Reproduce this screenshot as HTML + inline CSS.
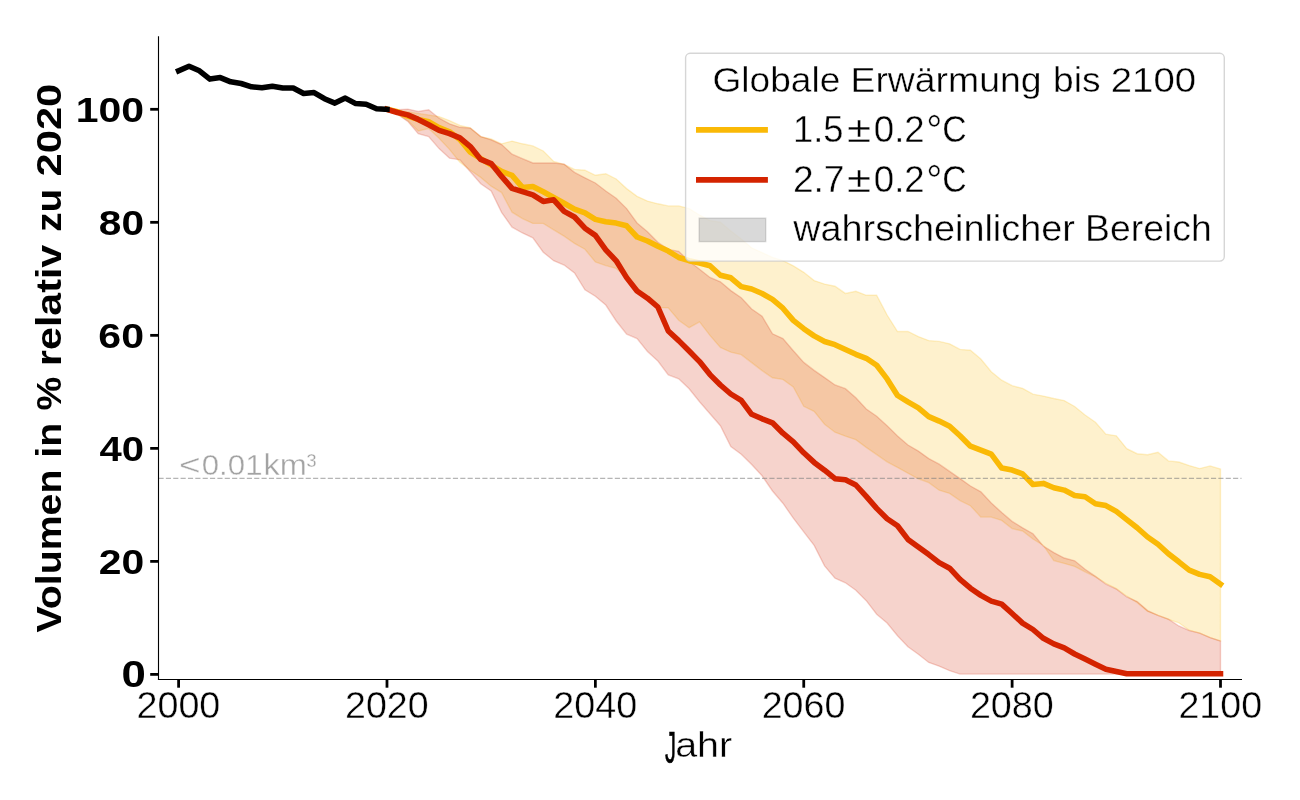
<!DOCTYPE html>
<html lang="de"><head><meta charset="utf-8"><title>Chart</title>
<style>html,body{margin:0;padding:0;background:#fff;}svg{display:block;will-change:transform;}text{font-family:"Liberation Sans",sans-serif;}</style>
</head><body>
<svg width="1300" height="800" viewBox="0 0 1300 800">
<rect x="0" y="0" width="1300" height="800" fill="#ffffff"/>
<path d="M386.98,109.50 L397.40,110.20 L407.82,111.80 L418.24,113.40 L428.66,115.00 L439.08,116.60 L449.49,120.60 L459.91,125.40 L470.33,127.80 L480.75,136.60 L491.17,139.00 L501.59,143.80 L512.01,141.10 L522.43,143.80 L532.85,145.90 L543.26,151.00 L553.68,161.40 L564.10,164.40 L574.52,169.40 L584.94,170.20 L595.36,175.30 L605.78,173.70 L616.20,179.00 L626.62,188.60 L637.04,196.30 L647.46,201.10 L657.87,203.80 L668.29,205.90 L678.71,205.90 L689.13,208.60 L699.55,215.00 L709.97,220.60 L720.39,222.20 L730.81,231.00 L741.23,239.00 L751.65,247.80 L762.06,252.60 L772.48,257.40 L782.90,260.60 L793.32,265.80 L803.74,272.30 L814.16,280.60 L824.58,284.10 L835.00,286.20 L845.42,293.40 L855.84,291.30 L866.25,295.30 L876.67,295.30 L887.09,315.00 L897.51,331.50 L907.93,331.50 L918.35,336.60 L928.77,340.60 L939.19,341.40 L949.61,343.80 L960.03,349.40 L970.44,350.20 L980.86,359.00 L991.28,371.80 L1001.70,380.20 L1012.12,385.70 L1022.54,388.30 L1032.96,394.20 L1043.38,396.10 L1053.80,398.50 L1064.21,400.60 L1074.63,406.50 L1085.05,415.00 L1095.47,422.20 L1105.89,434.20 L1116.31,435.80 L1126.73,448.60 L1137.15,453.70 L1147.57,454.70 L1157.99,452.30 L1168.40,460.90 L1178.82,462.00 L1189.24,465.60 L1199.66,468.60 L1210.08,465.90 L1220.50,469.00 L1220.50,641.10 L1210.08,637.60 L1199.66,633.20 L1189.24,630.20 L1178.82,622.80 L1168.40,619.40 L1157.99,615.40 L1147.57,611.40 L1137.15,602.60 L1126.73,596.20 L1116.31,588.70 L1105.89,583.40 L1095.47,576.80 L1085.05,571.80 L1074.63,566.40 L1064.21,563.40 L1053.80,560.60 L1043.38,545.40 L1032.96,539.00 L1022.54,531.00 L1012.12,528.60 L1001.70,520.40 L991.28,517.10 L980.86,517.10 L970.44,505.70 L960.03,500.60 L949.61,493.40 L939.19,490.20 L928.77,482.60 L918.35,478.80 L907.93,473.20 L897.51,467.40 L887.09,461.80 L876.67,454.60 L866.25,447.40 L855.84,439.70 L845.42,436.20 L835.00,432.20 L824.58,424.20 L814.16,411.40 L803.74,406.30 L793.32,387.00 L782.90,379.40 L772.48,377.80 L762.06,370.60 L751.65,362.60 L741.23,354.60 L730.81,352.20 L720.39,347.40 L709.97,335.40 L699.55,321.80 L689.13,327.70 L678.71,320.20 L668.29,307.90 L657.87,307.40 L647.46,298.60 L637.04,289.00 L626.62,277.80 L616.20,268.40 L605.78,265.60 L595.36,262.00 L584.94,249.20 L574.52,243.40 L564.10,236.20 L553.68,229.80 L543.26,223.40 L532.85,223.40 L522.43,218.60 L512.01,212.20 L501.59,192.60 L491.17,186.20 L480.75,177.40 L470.33,170.20 L459.91,162.20 L449.49,149.40 L439.08,138.20 L428.66,128.60 L418.24,131.00 L407.82,120.60 L397.40,114.20 L386.98,109.50 Z" fill="#FAB906" fill-opacity="0.2" stroke="#FAB906" stroke-opacity="0.2" stroke-width="1.39" stroke-linejoin="miter"/>
<path d="M386.98,109.50 L397.40,109.70 L407.82,109.10 L418.24,111.50 L428.66,109.70 L439.08,118.20 L449.49,123.80 L459.91,127.30 L470.33,128.10 L480.75,136.60 L491.17,139.80 L501.59,144.60 L512.01,154.20 L522.43,158.70 L532.85,163.00 L543.26,163.00 L553.68,163.00 L564.10,164.10 L574.52,172.40 L584.94,177.80 L595.36,183.00 L605.78,191.00 L616.20,198.20 L626.62,208.60 L637.04,223.00 L647.46,231.80 L657.87,242.20 L668.29,249.40 L678.71,251.30 L689.13,261.20 L699.55,269.20 L709.97,277.50 L720.39,281.80 L730.81,290.60 L741.23,297.80 L751.65,309.00 L762.06,316.20 L772.48,333.80 L782.90,338.60 L793.32,350.70 L803.74,362.40 L814.16,370.40 L824.58,377.60 L835.00,385.00 L845.42,388.70 L855.84,397.80 L866.25,409.00 L876.67,416.20 L887.09,425.80 L897.51,436.10 L907.93,445.00 L918.35,451.10 L928.77,458.60 L939.19,464.20 L949.61,471.40 L960.03,478.60 L970.44,486.00 L980.86,491.80 L991.28,503.00 L1001.70,512.50 L1012.12,521.40 L1022.54,527.80 L1032.96,533.70 L1043.38,546.20 L1053.80,552.60 L1064.21,558.00 L1074.63,560.80 L1085.05,569.20 L1095.47,576.40 L1105.89,584.20 L1116.31,589.00 L1126.73,597.00 L1137.15,601.50 L1147.57,610.60 L1157.99,615.40 L1168.40,619.20 L1178.82,626.00 L1189.24,630.60 L1199.66,633.20 L1210.08,637.60 L1220.50,641.10 L1220.50,674.10 L1210.08,674.10 L1199.66,674.10 L1189.24,674.10 L1178.82,674.10 L1168.40,674.10 L1157.99,674.10 L1147.57,674.10 L1137.15,674.10 L1126.73,674.10 L1116.31,674.10 L1105.89,674.10 L1095.47,674.10 L1085.05,674.10 L1074.63,674.10 L1064.21,674.10 L1053.80,674.10 L1043.38,674.10 L1032.96,674.10 L1022.54,674.10 L1012.12,674.10 L1001.70,674.10 L991.28,674.10 L980.86,674.10 L970.44,674.10 L960.03,674.10 L949.61,670.70 L939.19,666.20 L928.77,662.50 L918.35,654.20 L907.93,646.70 L897.51,635.80 L887.09,623.00 L876.67,614.20 L866.25,600.70 L855.84,590.20 L845.42,582.80 L835.00,578.20 L824.58,565.90 L814.16,545.40 L803.74,531.80 L793.32,518.20 L782.90,503.20 L772.48,491.00 L762.06,475.80 L751.65,464.60 L741.23,454.20 L730.81,446.50 L720.39,425.70 L709.97,413.70 L699.55,401.70 L689.13,388.70 L678.71,378.80 L668.29,374.80 L657.87,361.00 L647.46,351.40 L637.04,338.60 L626.62,334.10 L616.20,321.00 L605.78,305.00 L595.36,296.20 L584.94,289.80 L574.52,273.00 L564.10,265.00 L553.68,260.70 L543.26,252.20 L532.85,237.80 L522.43,233.00 L512.01,227.10 L501.59,212.40 L491.17,191.00 L480.75,183.80 L470.33,171.80 L459.91,159.80 L449.49,158.20 L439.08,148.60 L428.66,136.60 L418.24,133.70 L407.82,121.40 L397.40,114.20 L386.98,109.50 Z" fill="#D42300" fill-opacity="0.2" stroke="#D42300" stroke-opacity="0.2" stroke-width="1.39" stroke-linejoin="miter"/>
<path d="M386.98,109.30 L397.40,111.80 L407.82,116.20 L418.24,119.40 L428.66,121.80 L439.08,127.60 L449.49,131.80 L459.91,139.40 L470.33,152.20 L480.75,158.60 L491.17,165.00 L501.59,171.40 L512.01,175.40 L522.43,187.40 L532.85,186.60 L543.26,191.80 L553.68,197.50 L564.10,203.20 L574.52,209.20 L584.94,212.80 L595.36,219.40 L605.78,221.80 L616.20,223.10 L626.62,225.80 L637.04,237.00 L647.46,241.00 L657.87,246.30 L668.29,251.10 L678.71,257.50 L689.13,260.70 L699.55,263.00 L709.97,265.70 L720.39,275.20 L730.81,277.80 L741.23,286.60 L751.65,289.00 L762.06,293.50 L772.48,299.40 L782.90,308.20 L793.32,320.40 L803.74,328.70 L814.16,335.90 L824.58,341.50 L835.00,344.70 L845.42,349.50 L855.84,354.30 L866.25,358.30 L876.67,365.30 L887.09,378.90 L897.51,395.50 L907.93,401.90 L918.35,407.80 L928.77,416.60 L939.19,421.10 L949.61,426.20 L960.03,435.80 L970.44,446.20 L980.86,450.20 L991.28,454.20 L1001.70,468.10 L1012.12,470.10 L1022.54,473.90 L1032.96,484.50 L1043.38,483.40 L1053.80,487.70 L1064.21,490.10 L1074.63,495.40 L1085.05,496.80 L1095.47,503.70 L1105.89,505.60 L1116.31,511.40 L1126.73,519.60 L1137.15,527.70 L1147.57,537.00 L1157.99,544.20 L1168.40,553.80 L1178.82,561.80 L1189.24,570.20 L1199.66,574.40 L1210.08,576.80 L1220.50,584.20" fill="none" stroke="#FAB906" stroke-width="5.56" stroke-linejoin="round" stroke-linecap="square"/>
<line x1="158.5" y1="478.4" x2="1241.5" y2="478.4" stroke="#808080" stroke-opacity="0.58" stroke-width="1.1" stroke-dasharray="5.14 2.22"/>
<path d="M386.98,109.30 L397.40,112.50 L407.82,114.90 L418.24,119.40 L428.66,124.70 L439.08,130.40 L449.49,133.60 L459.91,137.80 L470.33,146.60 L480.75,159.40 L491.17,163.60 L501.59,176.40 L512.01,188.40 L522.43,191.60 L532.85,194.80 L543.26,201.40 L553.68,199.80 L564.10,211.40 L574.52,217.00 L584.94,228.20 L595.36,235.40 L605.78,249.80 L616.20,260.80 L626.62,277.60 L637.04,291.00 L647.46,298.20 L657.87,307.00 L668.29,331.00 L678.71,340.60 L689.13,351.00 L699.55,361.60 L709.97,374.60 L720.39,385.00 L730.81,394.00 L741.23,400.40 L751.65,414.30 L762.06,418.80 L772.48,422.80 L782.90,433.20 L793.32,441.80 L803.74,452.80 L814.16,462.40 L824.58,470.20 L835.00,478.70 L845.42,479.80 L855.84,485.00 L866.25,496.40 L876.67,508.40 L887.09,518.80 L897.51,525.80 L907.93,539.40 L918.35,547.10 L928.77,554.60 L939.19,562.60 L949.61,568.20 L960.03,579.40 L970.44,588.20 L980.86,595.40 L991.28,601.10 L1001.70,604.10 L1012.12,613.50 L1022.54,623.10 L1032.96,629.50 L1043.38,638.30 L1053.80,643.90 L1064.21,647.90 L1074.63,654.00 L1085.05,659.10 L1095.47,664.20 L1105.89,669.20 L1116.31,671.50 L1126.73,673.70 L1137.15,673.70 L1147.57,673.70 L1157.99,673.70 L1168.40,673.70 L1178.82,673.70 L1189.24,673.70 L1199.66,673.70 L1210.08,673.70 L1220.50,673.70" fill="none" stroke="#D42300" stroke-width="5.56" stroke-linejoin="round" stroke-linecap="square"/>
<path d="M178.60,70.80 L189.02,66.30 L199.44,70.80 L209.86,79.10 L220.28,77.60 L230.69,81.80 L241.11,83.50 L251.53,86.80 L261.95,87.80 L272.37,86.30 L282.79,88.00 L293.21,88.00 L303.63,93.50 L314.05,92.60 L324.47,98.70 L334.88,103.10 L345.30,98.10 L355.72,103.60 L366.14,104.30 L376.56,108.80 L386.98,109.30" fill="none" stroke="#000" stroke-width="5.56" stroke-linejoin="round" stroke-linecap="square"/>
<line x1="158.5" y1="36.25" x2="158.5" y2="680.05" stroke="#000" stroke-width="1.11"/>
<line x1="157.95" y1="679.5" x2="1242" y2="679.5" stroke="#000" stroke-width="1.11"/>
<line x1="178.60" y1="679.5" x2="178.60" y2="687.7" stroke="#000" stroke-width="2.78"/>
<line x1="150.2" y1="674.40" x2="158.5" y2="674.40" stroke="#000" stroke-width="2.78"/>
<line x1="386.98" y1="679.5" x2="386.98" y2="687.7" stroke="#000" stroke-width="2.78"/>
<line x1="150.2" y1="561.38" x2="158.5" y2="561.38" stroke="#000" stroke-width="2.78"/>
<line x1="595.36" y1="679.5" x2="595.36" y2="687.7" stroke="#000" stroke-width="2.78"/>
<line x1="150.2" y1="448.36" x2="158.5" y2="448.36" stroke="#000" stroke-width="2.78"/>
<line x1="803.74" y1="679.5" x2="803.74" y2="687.7" stroke="#000" stroke-width="2.78"/>
<line x1="150.2" y1="335.34" x2="158.5" y2="335.34" stroke="#000" stroke-width="2.78"/>
<line x1="1012.12" y1="679.5" x2="1012.12" y2="687.7" stroke="#000" stroke-width="2.78"/>
<line x1="150.2" y1="222.32" x2="158.5" y2="222.32" stroke="#000" stroke-width="2.78"/>
<line x1="1220.50" y1="679.5" x2="1220.50" y2="687.7" stroke="#000" stroke-width="2.78"/>
<line x1="150.2" y1="109.30" x2="158.5" y2="109.30" stroke="#000" stroke-width="2.78"/>
<rect x="685.6" y="53.3" width="538.7" height="207.8" rx="4.5" ry="4.5" fill="#fff" fill-opacity="0.8" stroke="#cccccc" stroke-opacity="0.8" stroke-width="1.39"/>
<line x1="696" y1="129.9" x2="767.9" y2="129.9" stroke="#FAB906" stroke-width="5.56"/>
<line x1="696" y1="179.9" x2="767.9" y2="179.9" stroke="#D42300" stroke-width="5.56"/>
<rect x="699.2" y="218.2" width="66.5" height="23.4" fill="#808080" fill-opacity="0.3" stroke="#808080" stroke-opacity="0.3" stroke-width="1.39"/>
<text transform="translate(178.38,717.86) scale(1.0458,1.0000)" font-size="36.071" font-weight="normal" text-anchor="middle" fill="#000" stroke="#fff" stroke-width="0.4">2000</text>
<text transform="translate(386.81,717.86) scale(1.0428,1.0000)" font-size="36.071" font-weight="normal" text-anchor="middle" fill="#000" stroke="#fff" stroke-width="0.4">2020</text>
<text transform="translate(595.16,717.86) scale(1.0464,1.0000)" font-size="36.071" font-weight="normal" text-anchor="middle" fill="#000" stroke="#fff" stroke-width="0.4">2040</text>
<text transform="translate(803.53,717.86) scale(1.0435,1.0000)" font-size="36.071" font-weight="normal" text-anchor="middle" fill="#000" stroke="#fff" stroke-width="0.4">2060</text>
<text transform="translate(1011.85,717.86) scale(1.0463,1.0000)" font-size="36.071" font-weight="normal" text-anchor="middle" fill="#000" stroke="#fff" stroke-width="0.4">2080</text>
<text transform="translate(1220.26,717.86) scale(1.0428,1.0000)" font-size="36.071" font-weight="normal" text-anchor="middle" fill="#000" stroke="#fff" stroke-width="0.4">2100</text>
<text transform="translate(145.69,686.98) scale(1.2107,1.0000)" font-size="36.113" font-weight="bold" text-anchor="end" fill="#000">0</text>
<text transform="translate(144.15,573.92) scale(1.1397,1.0000)" font-size="35.831" font-weight="bold" text-anchor="end" fill="#000">20</text>
<text transform="translate(144.02,460.97) scale(1.1177,1.0000)" font-size="35.831" font-weight="bold" text-anchor="end" fill="#000">40</text>
<text transform="translate(144.00,347.98) scale(1.1467,1.0000)" font-size="35.831" font-weight="bold" text-anchor="end" fill="#000">60</text>
<text transform="translate(144.02,234.81) scale(1.1332,1.0000)" font-size="35.831" font-weight="bold" text-anchor="end" fill="#000">80</text>
<text transform="translate(144.05,121.76) scale(1.1584,1.0000)" font-size="35.35" font-weight="bold" text-anchor="end" fill="#000">100</text>
<text transform="translate(670.38,763.10) scale(0.6225,1.2500)" font-size="35.357" font-weight="normal" text-anchor="middle" fill="#000" stroke="#000" stroke-width="0.5">J</text>
<text transform="translate(703.67,756.95) scale(1.1172,1.0000)" font-size="35.357" font-weight="normal" text-anchor="middle" fill="#000" stroke="#fff" stroke-width="0.4">ahr</text>
<text transform="translate(60.83,551.00) rotate(-90) scale(1.1229,1.0000)" font-size="34.996" font-weight="bold" text-anchor="middle" fill="#000">Volumen</text>
<text transform="translate(60.83,440.12) rotate(-90) scale(1.1267,1.0000)" font-size="34.996" font-weight="bold" text-anchor="middle" fill="#000">in</text>
<text transform="translate(60.83,393.50) rotate(-90) scale(1.0865,1.0000)" font-size="34.996" font-weight="bold" text-anchor="middle" fill="#000">%</text>
<text transform="translate(60.83,305.38) rotate(-90) scale(1.1743,1.0000)" font-size="34.996" font-weight="bold" text-anchor="middle" fill="#000">relativ</text>
<text transform="translate(60.83,210.25) rotate(-90) scale(1.1045,1.0000)" font-size="34.996" font-weight="bold" text-anchor="middle" fill="#000">zu</text>
<text transform="translate(60.83,130.12) rotate(-90) scale(1.1910,1.0000)" font-size="34.996" font-weight="bold" text-anchor="middle" fill="#000">2020</text>
<text transform="translate(189.75,474.97) scale(1.2279,1.0000)" font-size="30.217" font-weight="normal" text-anchor="middle" fill="#a3a3a3" stroke="#fff" stroke-width="0.4">&lt;</text>
<text transform="translate(232.14,474.97) scale(1.0344,1.0000)" font-size="30.217" font-weight="normal" text-anchor="middle" fill="#a3a3a3" stroke="#fff" stroke-width="0.4">0.01</text>
<text transform="translate(285.14,474.97) scale(1.0798,1.0000)" font-size="30.217" font-weight="normal" text-anchor="middle" fill="#a3a3a3" stroke="#fff" stroke-width="0.4">km</text>
<text transform="translate(311.50,474.97) scale(0.9920,1.0000)" font-size="30.217" font-weight="normal" text-anchor="middle" fill="#a3a3a3" stroke="#fff" stroke-width="0.4">³</text>
<text transform="translate(776.35,91.74) scale(1.0369,1.0000)" font-size="35.787" font-weight="normal" text-anchor="middle" fill="#000" stroke="#fff" stroke-width="0.4">Globale</text>
<text transform="translate(946.00,91.74) scale(1.0449,1.0000)" font-size="35.787" font-weight="normal" text-anchor="middle" fill="#000" stroke="#fff" stroke-width="0.4">Erwärmung</text>
<text transform="translate(1076.73,91.74) scale(1.0381,1.0000)" font-size="35.787" font-weight="normal" text-anchor="middle" fill="#000" stroke="#fff" stroke-width="0.4">bis</text>
<text transform="translate(1153.40,91.74) scale(1.0718,1.0000)" font-size="35.787" font-weight="normal" text-anchor="middle" fill="#000" stroke="#fff" stroke-width="0.4">2100</text>
<text transform="translate(818.23,142.03) scale(0.9687,1.0000)" font-size="37.537" font-weight="normal" text-anchor="middle" fill="#000" stroke="#fff" stroke-width="0.4">1.5</text>
<text transform="translate(859.12,142.03) scale(1.1748,1.0000)" font-size="37.537" font-weight="normal" text-anchor="middle" fill="#000" stroke="#fff" stroke-width="0.4">±</text>
<text transform="translate(899.25,142.03) scale(0.9746,1.0000)" font-size="37.537" font-weight="normal" text-anchor="middle" fill="#000" stroke="#fff" stroke-width="0.4">0.2</text>
<text transform="translate(934.40,146.43) scale(1.0763,1.1700)" font-size="37.537" font-weight="normal" text-anchor="middle" fill="#000" stroke="#fff" stroke-width="0.4">°</text>
<text transform="translate(954.52,142.03) scale(0.9006,1.0000)" font-size="37.537" font-weight="normal" text-anchor="middle" fill="#000" stroke="#fff" stroke-width="0.4">C</text>
<text transform="translate(818.71,192.02) scale(0.9899,1.0000)" font-size="37.537" font-weight="normal" text-anchor="middle" fill="#000" stroke="#fff" stroke-width="0.4">2.7</text>
<text transform="translate(859.12,192.02) scale(1.1747,1.0000)" font-size="37.537" font-weight="normal" text-anchor="middle" fill="#000" stroke="#fff" stroke-width="0.4">±</text>
<text transform="translate(899.25,192.02) scale(0.9744,1.0000)" font-size="37.537" font-weight="normal" text-anchor="middle" fill="#000" stroke="#fff" stroke-width="0.4">0.2</text>
<text transform="translate(934.40,196.42) scale(1.0761,1.1700)" font-size="37.537" font-weight="normal" text-anchor="middle" fill="#000" stroke="#fff" stroke-width="0.4">°</text>
<text transform="translate(954.52,192.02) scale(0.9004,1.0000)" font-size="37.537" font-weight="normal" text-anchor="middle" fill="#000" stroke="#fff" stroke-width="0.4">C</text>
<text transform="translate(934.00,240.98) scale(1.0312,1.0000)" font-size="36.692" font-weight="normal" text-anchor="middle" fill="#000" stroke="#fff" stroke-width="0.4">wahrscheinlicher</text>
<text transform="translate(1148.38,240.98) scale(1.0188,1.0000)" font-size="36.692" font-weight="normal" text-anchor="middle" fill="#000" stroke="#fff" stroke-width="0.4">Bereich</text>
</svg></body></html>
